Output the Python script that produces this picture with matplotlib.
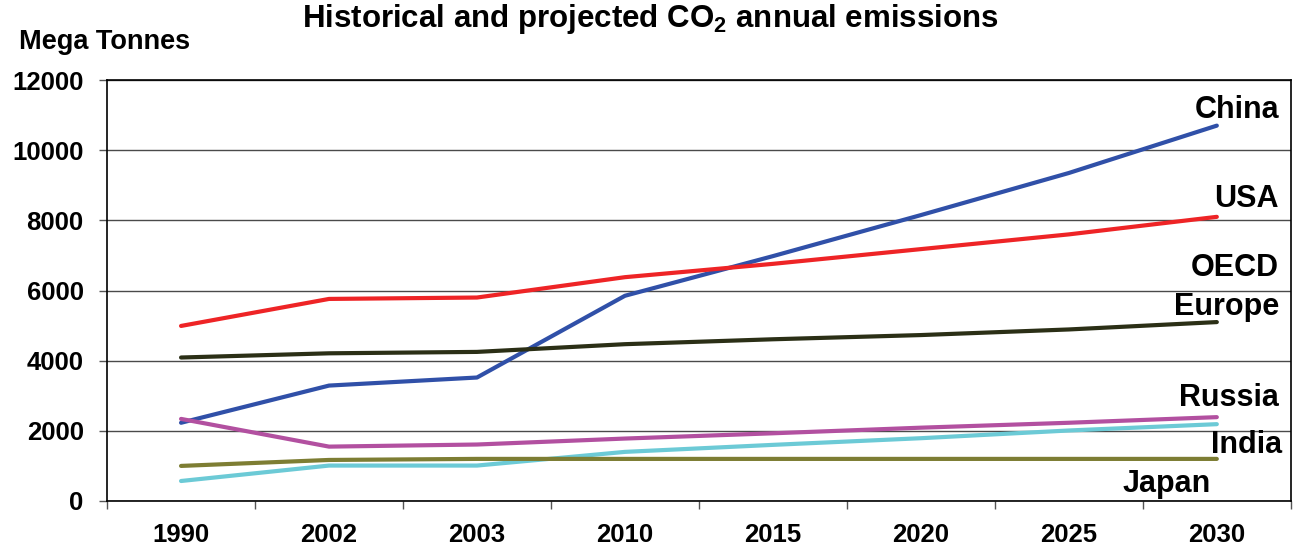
import matplotlib
matplotlib.use("Agg")
import matplotlib.pyplot as plt

plt.rcParams['font.family'] = ['Liberation Sans', 'DejaVu Sans']
plt.rcParams['font.weight'] = 'bold'
plt.rcParams['mathtext.fontset'] = 'custom'
plt.rcParams['mathtext.rm'] = 'Liberation Sans:bold'
plt.rcParams['mathtext.bf'] = 'Liberation Sans:bold'

years = ['1990', '2002', '2003', '2010', '2015', '2020', '2025', '2030']

china = [2230, 3290, 3520, 5850, 6980, 8150, 9350, 10700]
usa = [4990, 5760, 5800, 6380, 6760, 7180, 7600, 8100]
europe = [4090, 4210, 4250, 4470, 4610, 4730, 4890, 5100]
russia = [2340, 1550, 1610, 1780, 1930, 2090, 2230, 2390]
india = [570, 1010, 1010, 1400, 1600, 1790, 2010, 2190]
japan = [1000, 1170, 1200, 1200, 1200, 1200, 1200, 1200]

yticks = [0, 2000, 4000, 6000, 8000, 10000, 12000]

series = [
    (china, '#3050A8'),
    (usa, '#EE2426'),
    (europe, '#2B2F16'),
    (russia, '#B250A0'),
    (india, '#6CCAD6'),
    (japan, '#7D7D33'),
]

# (text, x, y, ha) -- end-of-line labels in data coordinates
labels = [
    ('China', 7.42, 10920, 'right'),
    ('USA', 7.42, 8390, 'right'),
    ('OECD', 7.42, 6400, 'right'),
    ('Europe', 7.42, 5300, 'right'),
    ('Russia', 7.42, 2710, 'right'),
    ('India', 7.443, 1360, 'right'),
    ('Japan', 6.956, 265, 'right'),
]

fig = plt.figure(figsize=(12.93, 5.47), dpi=100)
ax = fig.add_axes([0.0828, 0.0841, 0.9155, 0.7696])

x = list(range(len(years)))
for values, color in series:
    ax.plot(x, values, color=color, linewidth=3.0, solid_capstyle='round', zorder=3)

ax.set_xlim(-0.5, len(years) - 0.5)
ax.set_ylim(0, 12000)

# Category boundaries carry tick marks, category centres carry the labels
ax.set_xticks([i - 0.5 for i in range(len(years) + 1)])
ax.set_xticklabels([])
ax.set_xticks(x, minor=True)
ax.set_xticklabels(years, minor=True, fontsize=18.5, fontweight='bold')
ax.tick_params(axis='x', which='major', direction='out', length=5.8, width=1, color='#555555')
ax.tick_params(axis='x', which='minor', length=0, pad=16)

ax.set_yticks(yticks)
ax.set_yticklabels([str(v) for v in yticks], fontsize=18.5, fontweight='bold')
ax.tick_params(axis='y', direction='out', length=5.8, width=1, color='#555555', pad=11)

ax.yaxis.grid(True, color='#4a4a4a', linewidth=1.0)
ax.set_axisbelow(True)

for side in ['top', 'right', 'left', 'bottom']:
    ax.spines[side].set_color('black')
    ax.spines[side].set_linewidth(1.2)

for text, tx, ty, ha in labels:
    ax.text(tx, ty, text, ha=ha, va='baseline', fontsize=22, fontweight='bold', zorder=4)

fig.text(0.503, 0.965, r'Historical and projected CO$_{\mathbf{2}}$ annual emissions',
         ha='center', va='center', fontsize=22.5, fontweight='bold')
fig.text(0.015, 0.923, 'Mega Tonnes', ha='left', va='center', fontsize=19.5, fontweight='bold')

fig.savefig('out.png', dpi=100)
